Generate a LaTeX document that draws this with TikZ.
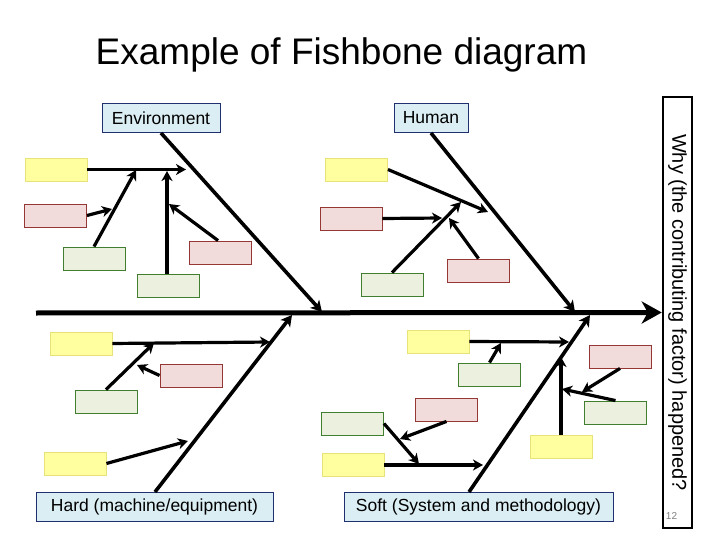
\documentclass[tikz,border=0pt]{standalone}
\usepackage{fontspec}
\setmainfont{Liberation Sans}
\usetikzlibrary{arrows.meta}
\definecolor{yfill}{HTML}{FFFF9F}
\definecolor{ydraw}{HTML}{E8E27A}
\definecolor{pfill}{HTML}{F2DCDB}
\definecolor{pdraw}{HTML}{953735}
\definecolor{gfill}{HTML}{EBF1DE}
\definecolor{gdraw}{HTML}{3F7F2F}
\definecolor{bfill}{HTML}{DBEEF4}
\definecolor{navy}{HTML}{1F2F6F}
\tikzset{
 box/.style={draw, line width=0.9pt, minimum width=62pt, minimum height=23pt, inner sep=0pt},
 yb/.style={box, fill=yfill, draw=ydraw},
 pb/.style={box, fill=pfill, draw=pdraw},
 gb/.style={box, fill=gfill, draw=gdraw},
 cat/.style={draw=navy, fill=bfill, line width=1pt, minimum height=29pt, inner sep=0pt, font=\fontsize{17.5}{20}\selectfont},
 bone/.style={line width=3.6pt, -{Stealth[length=11pt,width=12pt,inset=3pt]}},
 twig/.style={line width=3.2pt, -{Stealth[length=10pt,width=11pt,inset=3pt]}},
 spine/.style={line width=5pt, -{Stealth[length=20pt,width=22pt,inset=6pt]}},
}
\begin{document}
\begin{tikzpicture}[x=1pt,y=-1pt]
\useasboundingbox[fill=white] (0,0) rectangle (720,540);
% title
\node[anchor=base, font=\fontsize{37}{40}\selectfont, inner sep=0pt] (title) at (341.5,65) {Example of Fishbone diagram};
% effect box
\node[draw, line width=2.5pt, minimum width=431pt, minimum height=29pt, inner sep=0pt, rotate=-90,
      font=\fontsize{20}{22}\selectfont] (why) at (677.5,312.5) {Why (the contributing factor) happened?};
\node[text=gray, font=\fontsize{10}{10}\selectfont, inner sep=0pt] (pg) at (671.5,516) {12};
% category boxes
\node[cat, minimum width=118pt] (env) at (161,118.5) {Environment};
\node[cat, minimum width=74pt] (human) at (431,118) {Human};
\node[cat, minimum width=237pt] (hard) at (154.5,506.5) {Hard (machine/equipment)};
\node[cat, minimum width=269pt] (soft) at (478.5,506.5) {Soft (System and methodology)};
% spine
\coordinate (tail) at (36,313);
\draw[spine] (tail) -- (why.south);
% bone endpoints on spine
\coordinate (sE) at (322,312);
\coordinate (sH) at (575,312);
\coordinate (sD) at (292,315);
\coordinate (sS) at (590,315);
\draw[bone] (161,133) -- (sE);
\draw[bone] (431,133) -- (sH);
\draw[bone] (155,492) -- (sD);
\draw[bone] (469,492) -- (sS);
% ---- Environment boxes
\node[yb] (eY1) at (56,169.5) {};
\node[pb] (eP1) at (55.5,215.5) {};
\node[gb] (eG1) at (94,258.5) {};
\node[gb] (eG2) at (168,285.5) {};
\node[pb] (eP2) at (220.5,252.5) {};
\coordinate (e1) at (186,169.5);
\coordinate (e2) at (136,170);
\coordinate (e3) at (112,209);
\coordinate (e4) at (167,171);
\coordinate (e5) at (169,204);
\draw[twig] (eY1.east) -- (e1);
\draw[twig] (eG1.north) -- (e2);
\draw[twig] (eP1.east) -- (e3);
\draw[twig] (eG2.north -| e4) -- (e4);
\draw[twig] (eP2.north west) ++(29,0) coordinate (p2t) -- (e5);
% ---- Human boxes
\node[yb] (hY1) at (356.5,169.5) {};
\node[pb] (hP1) at (351,218.5) {};
\node[gb] (hG1) at (392,284.5) {};
\node[pb] (hP2) at (478.5,270.5) {};
\coordinate (h1) at (488,212);
\coordinate (h2) at (442,218);
\coordinate (h3) at (461,202);
\coordinate (h4) at (449,218);
\draw[twig] (hY1.east) -- (h1);
\draw[twig] (hP1.east) -- (h2);
\draw[twig] (hG1.north) -- (h3);
\draw[twig] (hP2.north) -- (h4);
% ---- Hard boxes
\node[yb] (bY1) at (81,343.5) {};
\node[gb] (bG1) at (106,401.5) {};
\node[pb] (bP1) at (191,375.5) {};
\node[yb] (bY2) at (75,463.5) {};
\coordinate (b1) at (270,342);
\coordinate (b2) at (154,343);
\coordinate (b3) at (137,365);
\coordinate (b4) at (188,441);
\draw[twig] (bY1.east) -- (b1);
\draw[twig] (bG1.north) -- (b2);
\draw[twig] (bP1.west) -- (b3);
\draw[twig] (bY2.east) -- (b4);
% ---- Soft boxes
\node[yb] (sYA) at (438,341.5) {};
\node[gb] (sGA) at (489.5,374.5) {};
\node[pb] (sPA) at (446.5,409.5) {};
\node[gb] (sGB) at (352.5,423.5) {};
\node[yb] (sYB) at (353,465) {};
\node[pb] (sPC) at (620,356.5) {};
\node[gb] (sGC) at (615.5,412.5) {};
\node[yb] (sYC) at (561.5,446.5) {};
\coordinate (s1) at (569,342);
\coordinate (s2) at (501,343);
\coordinate (s3) at (400,439);
\coordinate (s4) at (419,464);
\coordinate (s5) at (483,465);
\coordinate (s6) at (582,392);
\coordinate (s7) at (562,389);
\coordinate (s8) at (561,357);
\draw[twig] (sYA.east) -- (s1);
\draw[twig] (sGA.north) -- (s2);
\draw[twig] (sPA.south) -- (s3);
\draw[twig] (sGB.east) -- (s4);
\draw[twig] (sYB.east) -- (s5);
\draw[twig] (sPC.south) -- (s6);
\draw[twig] (sGC.north) -- (s7);
\draw[twig] (sYC.north -| s8) -- (s8);
\end{tikzpicture}
\end{document}
